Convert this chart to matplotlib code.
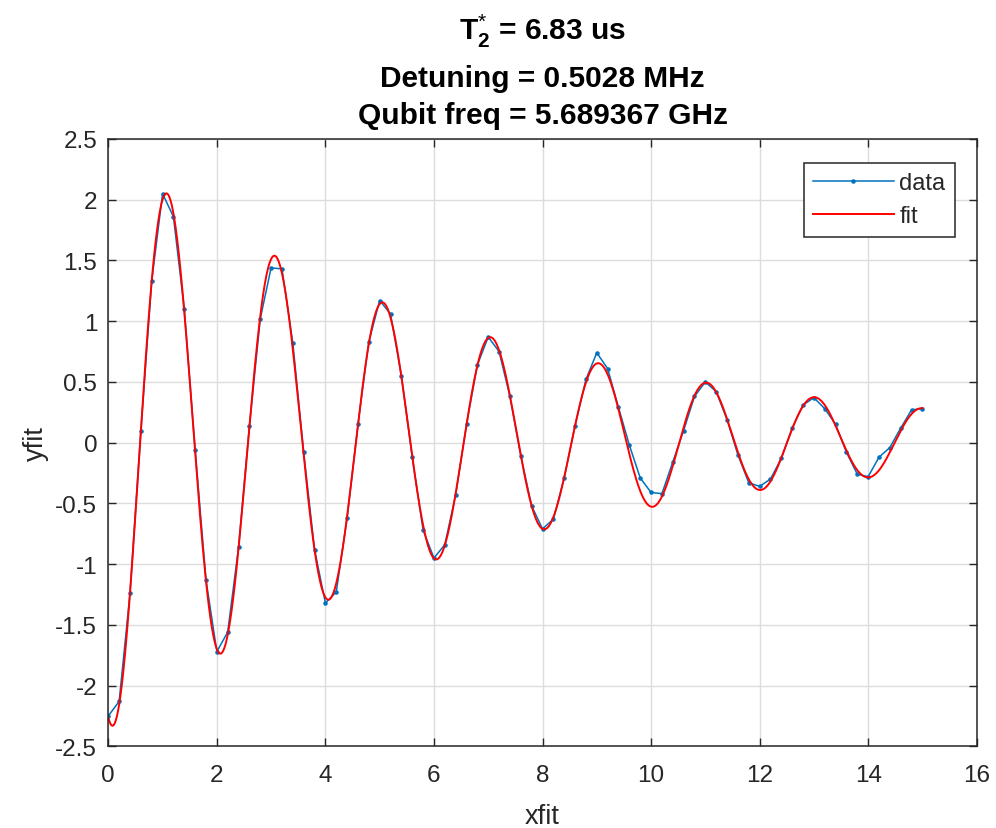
import numpy as np
import matplotlib
matplotlib.use("Agg")
import matplotlib.pyplot as plt
from matplotlib.ticker import FuncFormatter, FixedLocator

# ---------------- data ----------------
x_data = np.linspace(0.0, 15.0, 76)
y_data = [
    -2.25, -2.13, -1.24, 0.10, 1.33, 2.05, 1.86, 1.10, -0.06, -1.13,
    -1.72, -1.56, -0.86, 0.14, 1.02, 1.44, 1.43, 0.82, -0.08, -0.88,
    -1.32, -1.23, -0.62, 0.15, 0.83, 1.17, 1.06, 0.55, -0.12, -0.72,
    -0.95, -0.84, -0.43, 0.15, 0.64, 0.87, 0.75, 0.38, -0.11, -0.52,
    -0.71, -0.63, -0.29, 0.14, 0.52, 0.74, 0.61, 0.29, -0.02, -0.29,
    -0.41, -0.42, -0.16, 0.10, 0.38, 0.50, 0.42, 0.19, -0.10, -0.33,
    -0.36, -0.30, -0.13, 0.12, 0.31, 0.37, 0.28, 0.15, -0.08, -0.26,
    -0.28, -0.12, -0.04, 0.12, 0.27, 0.28,
]

# fit parameters (damped cosine), as reported in the title
fit_amp = 2.38
fit_t2 = 6.83          # us
fit_detuning = 0.5028  # MHz
fit_phase = 2.854      # rad
fit_offset = 0.02
x_fit = np.linspace(0.0, 15.0, 1500)
y_fit = fit_amp * np.exp(-x_fit / fit_t2) * np.cos(2 * np.pi * fit_detuning * x_fit + fit_phase) + fit_offset

title_lines = [r"$\mathbf{T}_{\mathbf{2}}^{*}$ = 6.83 us",
               "Detuning = 0.5028 MHz",
               "Qubit freq = 5.689367 GHz"]
x_ticks = [0, 2, 4, 6, 8, 10, 12, 14, 16]
y_ticks = [-2.5, -2, -1.5, -1, -0.5, 0, 0.5, 1, 1.5, 2, 2.5]

# ---------------- style ----------------
plt.rcParams["font.family"] = ["Liberation Sans", "DejaVu Sans"]
plt.rcParams["mathtext.fontset"] = "custom"
plt.rcParams["mathtext.rm"] = "Liberation Sans"
plt.rcParams["mathtext.bf"] = "Liberation Sans:bold"
plt.rcParams["mathtext.it"] = "Liberation Sans:italic"

W, H = 996, 829
fig = plt.figure(figsize=(W / 100, H / 100), dpi=100)
L, R, T, B = 108.3, 976.7, 140.0, 747.3
ax = fig.add_axes([L / W, 1 - B / H, (R - L) / W, (B - T) / H])

axis_col = "#262626"
ax.plot(x_data, y_data, color="#0072BD", lw=1.1, marker=".", ms=4.5, label="data")
ax.plot(x_fit, y_fit, color="#FF0000", lw=1.4, label="fit")

ax.set_xlim(0, 16)
ax.set_ylim(-2.5, 2.5)
ax.xaxis.set_major_locator(FixedLocator(x_ticks))
ax.yaxis.set_major_locator(FixedLocator(y_ticks))
fmt = FuncFormatter(lambda v, p: "%g" % v)
ax.xaxis.set_major_formatter(fmt)
ax.yaxis.set_major_formatter(fmt)

ax.grid(True, color="#dcdcdc", lw=1.0)
ax.set_axisbelow(True)
for s in ax.spines.values():
    s.set_color(axis_col)
    s.set_linewidth(1.1)
ax.tick_params(direction="in", length=5.8, width=1.0, colors=axis_col,
               labelsize=17.5, top=True, right=True, pad=8)
ax.tick_params(axis="x", pad=13)

ax.set_xlabel("xfit", fontsize=19.5, color=axis_col, labelpad=12)
ax.set_ylabel("yfit", fontsize=19.5, color=axis_col, labelpad=4.5)

cx = (L + R) / 2 / W
for txt, base in zip(title_lines, [40, 87, 124]):
    fig.text(cx, 1 - base / H, txt, ha="center", va="baseline",
             fontsize=21.5, fontweight="bold", color="black")

leg = ax.legend(loc="upper right", bbox_to_anchor=((955 - L) / (R - L), 1 - (164 - T) / (B - T)),
                fontsize=17, frameon=True, fancybox=False, framealpha=1,
                edgecolor=axis_col, handlelength=3.4, numpoints=1,
                borderpad=0.4, labelspacing=0.45, handletextpad=0.25, borderaxespad=0)
leg.get_frame().set_linewidth(1.1)
for t in leg.get_texts():
    t.set_color(axis_col)

fig.savefig("out.png", dpi=100, facecolor="white")
